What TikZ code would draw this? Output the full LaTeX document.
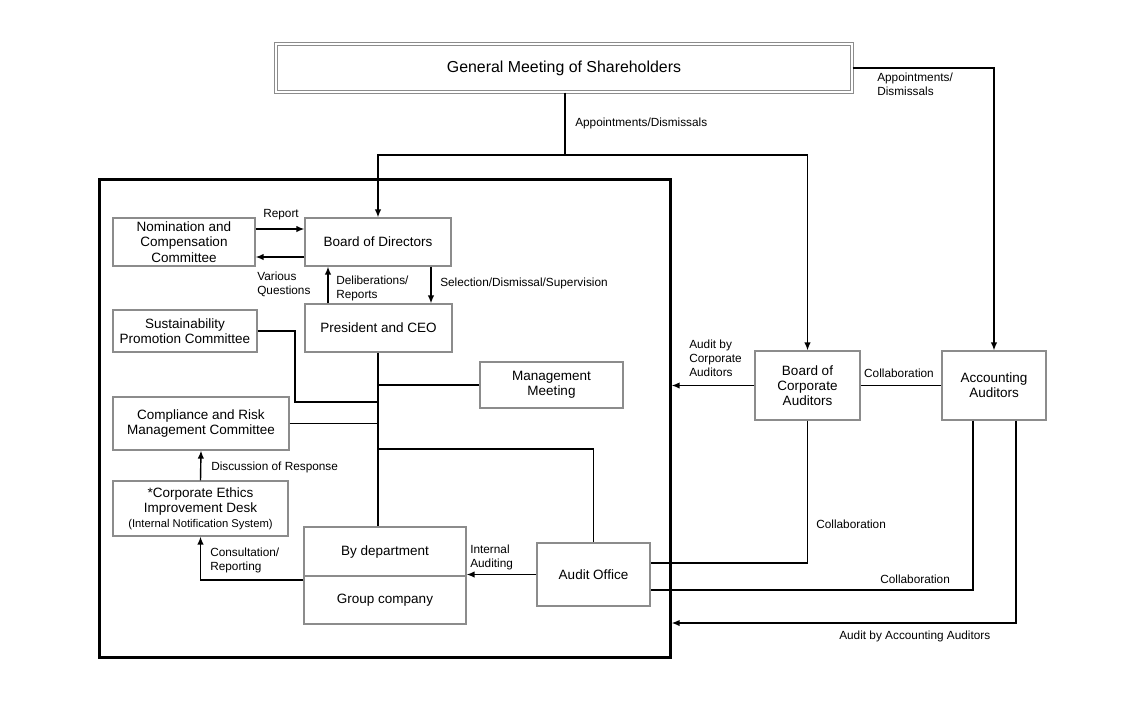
\documentclass[tikz,border=0pt]{standalone}
\usepackage{fontspec}
\setmainfont{Liberation Sans}
\usetikzlibrary{arrows.meta}

\begin{document}
\begin{tikzpicture}[x=0.025cm,y=-0.025cm]
    \tikzset{
    blk/.style={rectangle,draw=black!45,line width=0.8pt,align=center,inner sep=1pt,font=\fontsize{9.6}{10.8}\selectfont},
    frame/.style={rectangle,draw,line width=2.2pt,minimum width=14.25cm,minimum height=11.925cm},
    ln/.style={line width=1pt},
    ar/.style={line width=1pt,-{Latex[length=2mm,width=1.6mm]}},
    lab/.style={anchor=west,align=left,inner sep=0pt,font=\fontsize{8.4}{10}\selectfont},
    }
    \useasboundingbox (0,0) rectangle (1144,700);

    \node[frame] (org) at (385,418.5) {};
    \node[blk,double,double distance=1.2pt,minimum width=14.4cm,minimum height=1.2cm,font=\fontsize{11.3}{13}\selectfont] (gms) at (564,68) {General Meeting of Shareholders};

    \node[blk,minimum width=3.55cm,minimum height=1.2cm] (ncc) at (184,242) {Nomination and\\Compensation\\Committee};
    \node[blk,minimum width=3.65cm,minimum height=1.2cm] (bod) at (378,242) {Board of Directors};
    \node[blk,minimum width=3.675cm,minimum height=1.2cm] (pres) at (378.5,328) {President and CEO};
    \node[blk,minimum width=3.6cm,minimum height=1.05cm] (spc) at (185,331) {Sustainability\\Promotion Committee};
    \node[blk,minimum width=3.575cm,minimum height=1.15cm] (mm) at (551.5,385) {Management\\Meeting};
    \node[blk,minimum width=4.4cm,minimum height=1.325cm] (crm) at (201,423.5) {Compliance and Risk\\Management Committee};
    \node[blk,minimum width=4.375cm,minimum height=1.375cm] (ethics) at (200.5,508.5) {*Corporate Ethics\\Improvement Desk\\{\fontsize{8}{9.5}\selectfont(Internal Notification System)}};
    \node[blk,minimum width=4.05cm,minimum height=1.225cm] (dept) at (385,551.5) {By department};
    \node[blk,minimum width=4.05cm,minimum height=1.2cm] (grpco) at (385,600) {Group company};
    \node[blk,minimum width=2.825cm,minimum height=1.575cm] (audit) at (593.5,574.5) {Audit Office};
    \node[blk,minimum width=2.625cm,minimum height=1.725cm] (bca) at (807.5,385.5) {Board of\\Corporate\\Auditors};
    \node[blk,minimum width=2.6cm,minimum height=1.725cm] (aa) at (994,385.5) {Accounting\\Auditors};

    \coordinate (split) at (565,155);
    \coordinate (t1) at (378,402);

    \draw[ln] (split |- gms.south) -- (split);
    \draw[ar] (split) -| (bod.north);
    \draw[ar] (split) -| (bca.north);
    \draw[ar] (gms.east) -| (aa.north);
    \draw[ar] (ncc.east |- 0,229) -- (bod.west |- 0,229);
    \draw[ar] (bod.west |- 0,257) -- (ncc.east |- 0,257);
    \draw[ar] (pres.north -| 328,0) -- (bod.south -| 328,0);
    \draw[ar] (bod.south -| 431,0) -- (pres.north -| 431,0);
    \draw[ln] (pres.south -| t1) -- (dept.north -| t1);
    \draw[ln] (spc.east) -| (295,402) -- (t1);
    \draw[ln] (mm.west) -- (mm.west -| t1);
    \draw[ln] (crm.east) -- (crm.east -| t1);
    \draw[ln] (t1 |- 0,449) -| (audit.north);
    \draw[ar] (ethics.north) -- (crm.south);
    \draw[ar] (grpco.west |- 0,580) -| (ethics.south);
    \draw[ar] (audit.west) -- (audit.west -| dept.east);
    \draw[ln] (bca.east) -- (aa.west);
    \draw[ar] (bca.west) -- (bca.west -| org.east);
    \draw[ln] (bca.south) |- (audit.east |- 0,563);
    \draw[ln] (aa.south -| 973,0) |- (audit.east |- 0,590);
    \draw[ar] (aa.south -| 1016,0) |- (org.east |- 0,623);

    \node[lab] (l1) at (575,123) {Appointments/Dismissals};
    \node[lab,anchor=north west] (l2) at (877,73) {Appointments/\\Dismissals};
    \node[lab,anchor=center] (l3) at (281,215) {Report};
    \node[lab] (l4) at (257,284) {Various\\Questions};
    \node[lab] (l5) at (336,288) {Deliberations/\\Reports};
    \node[lab] (l6) at (440,283) {Selection/Dismissal/Supervision};
    \node[lab] (l7) at (211,467) {Discussion of Response};
    \node[lab] (l8) at (210,560) {Consultation/\\Reporting};
    \node[lab] (l9) at (470,557) {Internal\\Auditing};
    \node[lab] (l10) at (689,358) {Audit by\\Corporate\\Auditors};
    \node[lab,anchor=center] (l11) at (899,373) {Collaboration};
    \node[lab] (l12) at (816,524) {Collaboration};
    \node[lab] (l13) at (880,579) {Collaboration};
    \node[lab] (l14) at (839,636) {Audit by Accounting Auditors};

\end{tikzpicture}
\end{document}
